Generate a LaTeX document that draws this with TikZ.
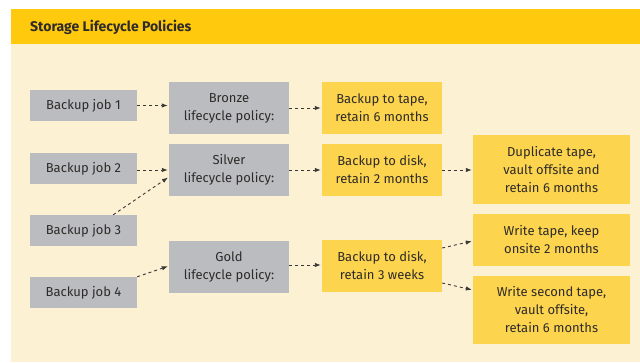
\documentclass[tikz,border=0pt]{standalone}
\usepackage{fontspec}
\setmainfont{Fira Sans}
\usetikzlibrary{arrows.meta}
\definecolor{hdr}{HTML}{FFC90E}
\definecolor{panel}{HTML}{FDF1D4}
\definecolor{grayb}{HTML}{BBBCBF}
\definecolor{orb}{HTML}{FDD44D}
\definecolor{txt}{HTML}{2E2B2A}
\definecolor{arr}{HTML}{3A3836}
\tikzset{
  box/.style={rectangle, inner sep=0pt, align=center, text=txt,
    font=\fontsize{13}{18}\selectfont},
  jobbox/.style={box, fill=grayb, minimum width=107pt, minimum height=31pt},
  polbox/.style={box, fill=grayb, minimum width=120pt, minimum height=52pt},
  midbox/.style={box, fill=orb, minimum width=120pt, minimum height=52pt},
  endbox/.style={box, fill=orb, minimum width=157pt},
  flow/.style={draw=arr, line width=0.9pt, dash pattern=on 3pt off 3pt,
    -{Latex[length=6pt,width=4.5pt]}, shorten >=1pt},
}
\begin{document}
\begin{tikzpicture}[x=1pt,y=-1pt]
\useasboundingbox (0,0) rectangle (640,363);
\fill[panel] (11,9) rectangle (640,362);
\fill[hdr] (11,9) rectangle (640,44);
\node[anchor=west, text=txt, font=\fontsize{14}{16}\selectfont\bfseries, inner sep=0pt] (title) at (30,27) {Storage Lifecycle Policies};

\node[jobbox] (j1) at (83.5,105.5) {Backup job 1};
\node[jobbox] (j2) at (83.5,168.5) {Backup job 2};
\node[jobbox] (j3) at (83.5,230.5) {Backup job 3};
\node[jobbox] (j4) at (83.5,292.5) {Backup job 4};

\node[polbox] (bronze) at (229,108) {Bronze\\lifecycle policy:};
\node[polbox] (silver) at (229,170) {Silver\\lifecycle policy:};
\node[polbox] (gold) at (229,267) {Gold\\lifecycle policy:};

\node[midbox] (m1) at (382,108) {Backup to tape,\\retain 6 months};
\node[midbox] (m2) at (382,170) {Backup to disk,\\retain 2 months};
\node[midbox] (m3) at (382,266) {Backup to disk,\\retain 3 weeks};

\node[endbox, minimum height=69pt] (e1) at (551.5,169.5) {Duplicate tape,\\vault offsite and\\retain 6 months};
\node[endbox, minimum height=52pt] (e2) at (551.5,240) {Write tape, keep\\onsite 2 months};
\node[endbox, minimum height=68pt] (e3) at (551.5,310) {Write second tape,\\vault offsite,\\retain 6 months};

\draw[flow] (j1.east) -- (j1.east -| bronze.west);
\draw[flow] (bronze.east) -- (m1.west);
\draw[flow] ([yshift=-1.5pt]j2.east) -- ([yshift=-1.5pt]j2.east -| silver.west);
\draw[flow] ([xshift=-24pt]j3.north east) -- ([yshift=-7pt]silver.west);
\draw[flow] (j4.north east) -- ([yshift=1pt]gold.west);
\draw[flow] (silver.east) -- (m2.west);
\draw[flow] ([yshift=2pt]gold.east) -- ([yshift=1pt]m3.west);
\draw[flow] (m2.east) -- (m2.east -| e1.west);
\draw[flow] ([yshift=18pt]m3.east) -- ([yshift=-1pt]e2.west);
\draw[flow] ([yshift=-17pt]m3.east) -- ([yshift=20pt]e3.west);
\end{tikzpicture}
\end{document}
